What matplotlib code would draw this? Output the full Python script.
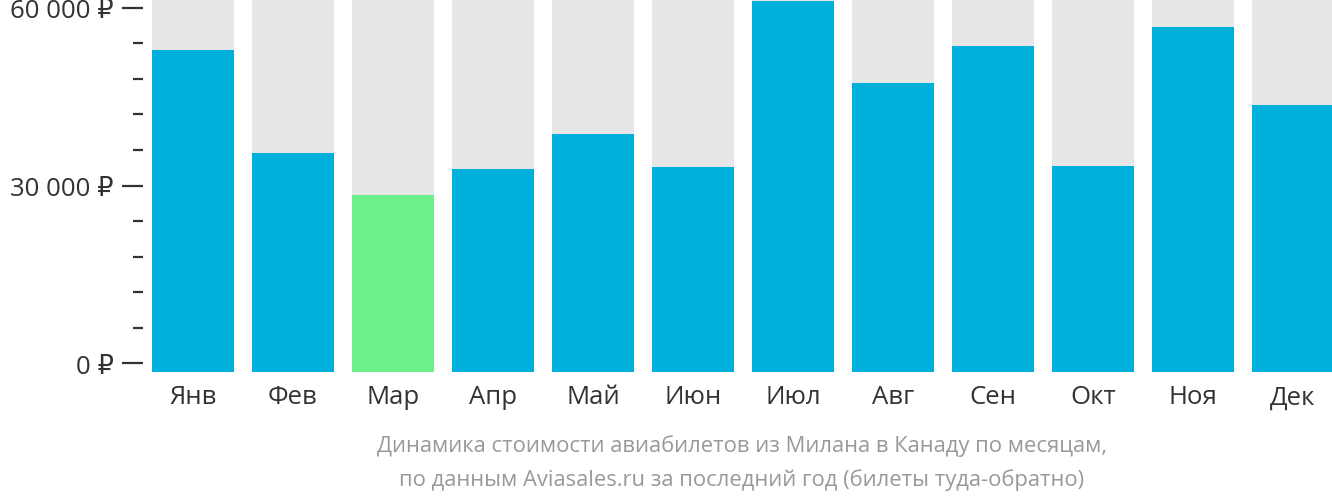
import matplotlib.pyplot as plt
from matplotlib.ticker import MultipleLocator, FuncFormatter

plt.rcParams['font.family'] = ['Open Sans', 'DejaVu Sans']

months = ["Янв", "Фев", "Мар", "Апр", "Май", "Июн",
          "Июл", "Авг", "Сен", "Окт", "Ноя", "Дек"]
prices = [52900, 35500, 28400, 32800, 38700, 33100,
          61200, 47300, 53600, 33300, 56800, 43600]
cheapest = "Мар"
caption = ("Динамика стоимости авиабилетов из Милана в Канаду по месяцам,\n"
           "по данным Aviasales.ru за последний год (билеты туда-обратно)")

blue = "#00b0dc"
green = "#6cf08a"
grey = "#e7e7e7"
ymin, ymax = -1520, 61520

fig = plt.figure(figsize=(13.32, 5.02), dpi=100)
ax = fig.add_axes([143 / 1332, 1 - 373 / 502, 1 - 143 / 1332, 373 / 502])

x = list(range(len(months)))
ax.bar(x, [ymax - ymin] * len(x), bottom=ymin, width=0.82, color=grey)
colors = [green if m == cheapest else blue for m in months]
ax.bar(x, [p - ymin for p in prices], bottom=ymin, width=0.82, color=colors)

ax.set_xlim(-0.5, 11.39)
ax.set_ylim(ymin, ymax)
for s in ax.spines.values():
    s.set_visible(False)

ax.yaxis.set_major_locator(MultipleLocator(30000))
ax.yaxis.set_minor_locator(MultipleLocator(6000))
ax.yaxis.set_major_formatter(FuncFormatter(
    lambda v, p: "{:,.0f}".format(v).replace(",", "\u00a0") + " ₽"))
ax.tick_params(axis='y', which='major', length=15, width=1.6, color='#333333',
               labelsize=18.5, labelcolor='#333333', pad=6)
ax.tick_params(axis='y', which='minor', length=7, width=1.6, color='#333333')

ax.set_xticks(x)
ax.set_xticklabels(months)
ax.tick_params(axis='x', length=0, labelsize=18.5, labelcolor='#333333', pad=9)

fig.text(0.557, 0.078, caption, ha='center', va='center', fontsize=15.8,
         color='#999999', linespacing=1.75)

fig.savefig("out.png", dpi=100)
